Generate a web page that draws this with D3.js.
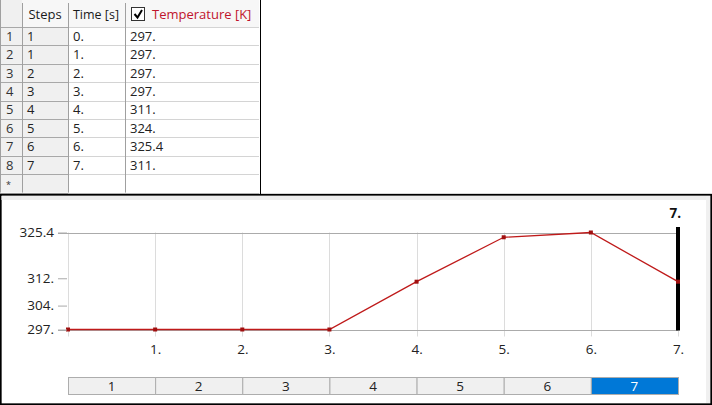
<!DOCTYPE html>
<html><head><meta charset="utf-8">
<script src="https://cdn.jsdelivr.net/npm/d3@7"></script>
<style>
html,body{margin:0;padding:0;background:#fff;}
svg{display:block;font-family:"Open Sans","Noto Sans",sans-serif;}
</style></head><body>
<svg id="c" width="712" height="405"></svg>
<script>
const rowNums = ["1","2","3","4","5","6","7","8","*"];
const steps = [1,1,2,3,4,5,6,7];
const timeLabels = ["0.","1.","2.","3.","4.","5.","6.","7."];
const tempLabels = ["297.","297.","297.","297.","311.","324.","325.4","311."];
const times = [0,1,2,3,4,5,6,7];
const temps = [297,297,297,297,311,324,325.4,311];
const yTicks = [297,304,312,325.4];
const yTickLabels = ["297.","304.","312.","325.4"];
const xTicks = [1,2,3,4,5,6,7];
const xTickLabels = ["1.","2.","3.","4.","5.","6.","7."];
const stepBar = ["1","2","3","4","5","6","7"];
const headers = ["","Steps","Time [s]","Temperature [K]"];

const svg = d3.select("#c");

// ---------- Table ----------
const colX = [0,22,68,125,259];
const headH = 27, rowH = 18.4;
const tbl = svg.append("g");
headers.forEach((h,i)=>{
  tbl.append("rect").attr("x",colX[i]).attr("y",0).attr("width",colX[i+1]-colX[i]).attr("height",headH)
    .attr("fill", i===0 ? "#f0f0f0" : "#f7f7f7");
});
const rows = rowNums.map((r,i)=>({r, s: i<steps.length? String(steps[i]):"", t: i<timeLabels.length?timeLabels[i]:"", v: i<tempLabels.length?tempLabels[i]:""}));
rows.forEach((d,i)=>{
  const y = headH + i*rowH;
  tbl.append("rect").attr("x",colX[0]).attr("y",y).attr("width",colX[1]-colX[0]).attr("height",rowH).attr("fill","#f0f0f0");
  tbl.append("rect").attr("x",colX[1]).attr("y",y).attr("width",colX[2]-colX[1]).attr("height",rowH).attr("fill","#f0f0f0");
  tbl.append("rect").attr("x",colX[2]).attr("y",y).attr("width",colX[4]-colX[2]).attr("height",rowH).attr("fill","#fff");
});
const tableBottom = headH + rows.length*rowH;
for(let i=0;i<=rows.length;i++){
  const y = Math.round(headH + i*rowH)+0.5;
  tbl.append("line").attr("x1",0).attr("x2",colX[2]).attr("y1",y).attr("y2",y).attr("stroke","#a8a8a8");
  tbl.append("line").attr("x1",colX[2]).attr("x2",colX[4]).attr("y1",y).attr("y2",y).attr("stroke","#d4d4d4");
}
colX.slice(1,4).forEach(x=>{
  tbl.append("line").attr("x1",x+0.5).attr("x2",x+0.5).attr("y1",3).attr("y2",tableBottom).attr("stroke","#a0a0a0");
});
tbl.append("line").attr("x1",0.5).attr("x2",0.5).attr("y1",0).attr("y2",tableBottom).attr("stroke","#a0a0a0");
tbl.append("line").attr("x1",260.5).attr("x2",260.5).attr("y1",0).attr("y2",194).attr("stroke","#000");
tbl.append("text").attr("x",45).attr("y",19).attr("text-anchor","middle").attr("font-size",13).attr("fill","#1a1a1a").text(headers[1]);
tbl.append("text").attr("x",96).attr("y",19).attr("text-anchor","middle").attr("font-size",12.5).attr("fill","#1a1a1a").text(headers[2]);
tbl.append("rect").attr("x",131.5).attr("y",7.5).attr("width",13).attr("height",13).attr("fill","#fff").attr("stroke","#333");
tbl.append("path").attr("d","M134.5,14 L137.5,17.5 L142,10").attr("fill","none").attr("stroke","#000").attr("stroke-width",2);
tbl.append("text").attr("x",152).attr("y",19).attr("font-size",13).attr("fill","#c0142c").text(headers[3]);
rows.forEach((d,i)=>{
  const y = headH + i*rowH + 13.8;
  tbl.append("text").attr("x",6).attr("y",y).attr("font-size", d.r==="*"?9:13).attr("fill","#333").text(d.r);
  tbl.append("text").attr("x",27).attr("y",y).attr("font-size",13).attr("fill","#222").text(d.s);
  tbl.append("text").attr("x",73).attr("y",y).attr("font-size",13).attr("fill","#222").text(d.t);
  tbl.append("text").attr("x",130).attr("y",y).attr("font-size",13).attr("fill","#222").text(d.v);
});

// ---------- Chart panel ----------
svg.append("rect").attr("x",0.75).attr("y",194.75).attr("width",710.5).attr("height",209.5).attr("fill","#fff").attr("stroke","#000").attr("stroke-width",1.8);
svg.append("rect").attr("x",1.5).attr("y",196).attr("width",708).attr("height",4).attr("fill","#eeeeee");
svg.append("rect").attr("x",706).attr("y",196).attr("width",4).attr("height",207).attr("fill","#f0f0f0");

const x = d3.scaleLinear().domain([0,7]).range([68,678]);
const y = d3.scaleLinear().domain([297,325.4]).range([329.5,232.5]);

const g = svg.append("g");
g.selectAll(".vg").data(times).enter().append("line")
  .attr("x1",d=>Math.round(x(d))+0.5).attr("x2",d=>Math.round(x(d))+0.5)
  .attr("y1",y(325.4)).attr("y2",y(297)+7).attr("stroke","#dcdcdc");
g.append("line").attr("x1",58).attr("x2",x(7)).attr("y1",Math.round(y(325.4))+0.5).attr("y2",Math.round(y(325.4))+0.5).attr("stroke","#ababab").attr("stroke-width",1.2);
g.append("line").attr("x1",58).attr("x2",x(7)).attr("y1",Math.round(y(297))+0.5).attr("y2",Math.round(y(297))+0.5).attr("stroke","#ababab").attr("stroke-width",1.2);

const yAxis = d3.axisLeft(y).tickValues(yTicks).tickSize(9).tickPadding(4)
  .tickFormat((d,i)=>yTickLabels[i]);
const ya = svg.append("g").attr("transform","translate(67,0)").call(yAxis);
ya.select(".domain").remove();
ya.selectAll("line").attr("stroke","#aaaaaa");
ya.selectAll("text").attr("font-size",13.5).attr("fill","#222").attr("font-family","Open Sans, Noto Sans, sans-serif");

const xAxis = d3.axisBottom(x).tickValues(xTicks).tickSize(0).tickPadding(15)
  .tickFormat((d,i)=>xTickLabels[i]);
const xa = svg.append("g").attr("transform",`translate(0,${y(297)})`).call(xAxis);
xa.select(".domain").remove();
xa.selectAll("text").attr("font-size",13.5).attr("fill","#222").attr("font-family","Open Sans, Noto Sans, sans-serif");

g.append("line").attr("x1",x(7)).attr("x2",x(7)).attr("y1",227).attr("y2",y(297)+1).attr("stroke","#000").attr("stroke-width",4);
svg.append("text").attr("x",x(7)+3).attr("y",218).attr("text-anchor","end").attr("font-size",13.5).attr("font-weight","bold").attr("fill","#111").text(xTickLabels[6]);

const pts = times.map((t,i)=>[t,temps[i]]);
g.append("path").datum(pts).attr("d",d3.line().x(d=>x(d[0])).y(d=>y(d[1])))
  .attr("fill","none").attr("stroke","#bf1a1a").attr("stroke-width",1.3);
g.selectAll(".m").data(pts).enter().append("rect")
  .attr("x",d=>x(d[0])-2).attr("y",d=>y(d[1])-2).attr("width",4).attr("height",4).attr("fill","#a01010");

const sb = svg.append("g");
stepBar.forEach((s,i)=>{
  const x0 = x(i), x1 = x(i+1);
  const sel = i===stepBar.length-1;
  sb.append("rect").attr("x",x0+0.5).attr("y",377.5).attr("width",x1-x0).attr("height",17)
    .attr("fill", sel?"#0078d7":"#f0f0f0").attr("stroke","#adadad");
  sb.append("text").attr("x",(x0+x1)/2).attr("y",391).attr("text-anchor","middle").attr("font-size",13.5)
    .attr("fill", sel?"#fff":"#222").text(s);
});
</script>
</body></html>
